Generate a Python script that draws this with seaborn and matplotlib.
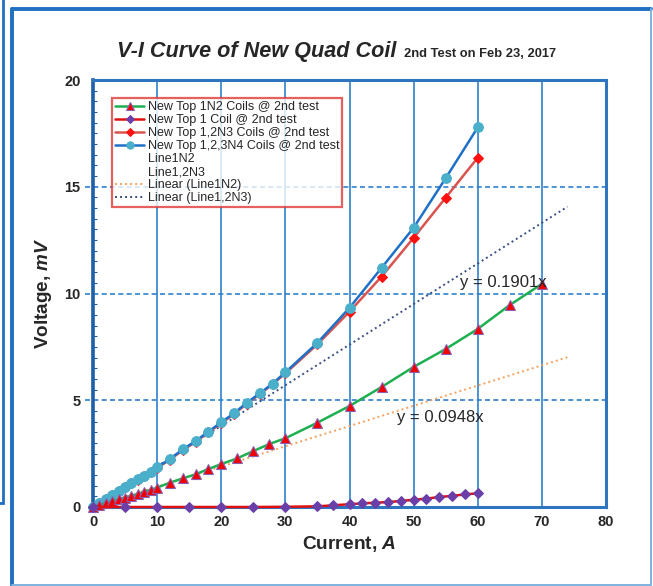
import matplotlib
matplotlib.use("Agg")
import matplotlib.pyplot as plt
from matplotlib.lines import Line2D
from matplotlib.patches import Rectangle
import numpy as np
import pandas as pd
import seaborn as sns

# Measured V-I data (current in A, voltage in mV)
x_1n2 = [0, 1, 2, 3, 4, 5, 6, 7, 8, 9, 10, 12, 14, 16, 18, 20, 22.5, 25, 27.5, 30,
         35, 40, 45, 50, 55, 60, 65, 70]
v_1n2 = [0, 0.09, 0.18, 0.27, 0.36, 0.44, 0.53, 0.61, 0.72, 0.80, 0.91, 1.14, 1.34,
         1.53, 1.78, 2.01, 2.28, 2.62, 2.95, 3.22, 3.95, 4.73, 5.62, 6.56, 7.40,
         8.34, 9.46, 10.45]

x_1 = [0, 5, 10, 15, 20, 25, 30, 35, 37.5, 40, 42, 44, 46, 48, 50, 52, 54, 56, 58, 60]
v_1 = [0, 0, 0, 0, 0, 0, 0.01, 0.03, 0.08, 0.13, 0.17, 0.20, 0.23, 0.28, 0.34,
       0.39, 0.47, 0.52, 0.59, 0.64]

x_12n3 = [0, 1, 2, 3, 4, 5, 6, 7, 8, 9, 10, 12, 14, 16, 18, 20, 22, 24, 26, 28, 30,
          35, 40, 45, 50, 55, 60]
v_12n3 = [0, 0.19, 0.36, 0.55, 0.74, 0.93, 1.12, 1.28, 1.45, 1.63, 1.83, 2.22, 2.66,
          3.05, 3.49, 3.93, 4.35, 4.84, 5.28, 5.75, 6.26, 7.62, 9.15, 10.79, 12.61,
          14.49, 16.36]

x_123n4 = [0, 1, 2, 3, 4, 5, 6, 7, 8, 9, 10, 12, 14, 16, 18, 20, 22, 24, 26, 28, 30,
           35, 40, 45, 50, 55, 60]
v_123n4 = [0, 0.20, 0.37, 0.56, 0.76, 0.95, 1.14, 1.30, 1.47, 1.65, 1.86, 2.25, 2.70,
           3.09, 3.53, 3.97, 4.39, 4.89, 5.32, 5.78, 6.31, 7.69, 9.33, 11.20, 13.08,
           15.40, 17.78]

# Linear trend lines through the origin
slope_1n2 = 0.0948
slope_12n3 = 0.1901
trend_x = [0, 74]

x_ticks = [0, 10, 20, 30, 40, 50, 60, 70, 80]
y_ticks = [0, 5, 10, 15, 20]

sns.set_theme(style="white")
plt.rcParams["font.family"] = ["Liberation Sans", "DejaVu Sans"]
plt.rcParams["mathtext.fontset"] = "custom"
plt.rcParams["mathtext.rm"] = "Liberation Sans:bold"
plt.rcParams["mathtext.it"] = "Liberation Sans:bold:italic"
plt.rcParams["mathtext.bf"] = "Liberation Sans:bold"

fig = plt.figure(figsize=(6.53, 5.86), dpi=100)
ax = fig.add_axes([93 / 653, 1 - 507 / 586, (606 - 93) / 653, (507 - 80) / 586])

grid_c = "#2F80CC"
for xv in x_ticks[1:-1]:
    ax.axvline(xv, color=grid_c, lw=1.2, zorder=0.5)
for yv in y_ticks[1:-1]:
    ax.axhline(yv, xmin=-0.016, xmax=1, color=grid_c, lw=1.2, ls=(0, (3, 2)),
               zorder=0.5, clip_on=False)

# trend lines
df_t1 = pd.DataFrame({"x": trend_x, "y": [slope_1n2 * v for v in trend_x]})
df_t2 = pd.DataFrame({"x": trend_x, "y": [slope_12n3 * v for v in trend_x]})
sns.lineplot(data=df_t1, x="x", y="y", ax=ax, color="#F4A15D", lw=1.4,
             linestyle=(0, (1, 1.6)), label="Linear (Line1N2)", zorder=2)
sns.lineplot(data=df_t2, x="x", y="y", ax=ax, color="#3B4F80", lw=1.4,
             linestyle=(0, (1, 1.6)), label="Linear (Line1,2N3)", zorder=2)

def series(xs, ys, **kw):
    df = pd.DataFrame({"x": xs, "y": ys})
    sns.lineplot(data=df, x="x", y="y", ax=ax, estimator=None, sort=False,
                 clip_on=False, **kw)

series(x_1n2, v_1n2, color="#1DB050", lw=1.8, marker="^", markersize=7,
       markerfacecolor="#F00000", markeredgecolor="#8A60B0", markeredgewidth=0.8,
       label="New Top 1N2 Coils @ 2nd test", zorder=4)
series(x_1, v_1, color="#E01010", lw=1.8, marker="D", markersize=5,
       markerfacecolor="#6A3FA8", markeredgecolor="#6A3FA8",
       label="New Top 1 Coil @ 2nd test", zorder=4)
series(x_12n3, v_12n3, color="#D9534F", lw=1.8, marker="D", markersize=5,
       markerfacecolor="#FF1010", markeredgecolor="#FF1010",
       label="New Top 1,2N3 Coils @ 2nd test", zorder=3)
series(x_123n4, v_123n4, color="#1F70C8", lw=1.8, marker="o", markersize=7,
       markerfacecolor="#4AAFCB", markeredgecolor="#4AAFCB",
       label="New Top 1,2,3N4 Coils @ 2nd test", zorder=3.5)

ax.set_xlim(0, 80)
ax.set_ylim(0, 20)
ax.set_xticks(x_ticks)
ax.set_yticks(y_ticks)
ax.set_yticks(np.arange(0, 20.01, 0.5), minor=True)
ax.tick_params(axis="y", which="minor", direction="in", length=3, width=0.8,
               color="#1F5FA8", left=True)
ax.tick_params(axis="y", which="major", length=0, pad=9)
ax.tick_params(axis="x", which="major", length=0, pad=6)
for lab in ax.get_xticklabels() + ax.get_yticklabels():
    lab.set_fontweight("bold")
    lab.set_fontsize(10.5)

for side, sp in ax.spines.items():
    sp.set_color("#2E75C0")
    sp.set_linewidth(2.2)
ax.spines["left"].set_color("#1F5FA8")
ax.spines["left"].set_linewidth(2.6)

ax.set_xlabel("Current, $A$", fontsize=13.8, fontweight="bold", labelpad=3)
ax.set_ylabel("Voltage, $mV$", fontsize=13.6, fontweight="bold", labelpad=7)

ax.text(57.3, 10.5, "y = 0.1901x", fontsize=12, va="center", ha="left", zorder=5)
ax.text(47.4, 4.2, "y = 0.0948x", fontsize=12, va="center", ha="left", zorder=5)

# legend with blank entries for the hidden helper series
h, l = ax.get_legend_handles_labels()
lab_map = dict(zip(l, h))
blank = lambda: Line2D([], [], linestyle="none")
order = ["New Top 1N2 Coils @ 2nd test", "New Top 1 Coil @ 2nd test",
         "New Top 1,2N3 Coils @ 2nd test", "New Top 1,2,3N4 Coils @ 2nd test"]
handles = [lab_map[k] for k in order] + [blank(), blank(),
           lab_map["Linear (Line1N2)"], lab_map["Linear (Line1,2N3)"]]
labels = order + ["Line1N2", "Line1,2N3", "Linear (Line1N2)", "Linear (Line1,2N3)"]
leg = ax.legend(handles, labels, loc="upper left",
                bbox_to_anchor=(19 / 513, (507 - 98) / 427), fontsize=9.0,
                frameon=True, fancybox=False, borderpad=0.25, labelspacing=0.08,
                handlelength=2.3, handletextpad=0.3, borderaxespad=0,
                markerscale=0.75)
leg.get_frame().set_edgecolor("#E03838")
leg.get_frame().set_linewidth(1.6)
leg.set_zorder(10)

# title
fig.text(117 / 653, 1 - 57 / 586, "V-I Curve of New Quad Coil", fontsize=15.6,
         fontweight="bold", fontstyle="italic", ha="left", va="baseline")
fig.text(404 / 653, 1 - 57 / 586, "2nd Test on Feb 23, 2017", fontsize=9.3,
         fontweight="bold", ha="left", va="baseline")

# chart frame: heavy left/top edges, light right/bottom edges
L, R, T, B = 12.5 / 653, 651 / 653, 1 - 9 / 586, 1 - 584.5 / 586
fig.add_artist(Line2D([L, L], [B, T], transform=fig.transFigure,
                      color="#1F70C0", lw=2.8))
fig.add_artist(Line2D([L, R], [T, T], transform=fig.transFigure,
                      color="#1F70C0", lw=2.8))
fig.add_artist(Line2D([R, R], [B, T], transform=fig.transFigure,
                      color="#7FB2E0", lw=1.4))
fig.add_artist(Line2D([L, R], [B, B], transform=fig.transFigure,
                      color="#7FB2E0", lw=1.4))
fig.patches.append(Rectangle((-10 / 653, 1 - 503 / 586), 13 / 653, 520 / 586,
                             transform=fig.transFigure, fill=False,
                             edgecolor="#1F70C0", lw=2))

fig.savefig("out.png", dpi=100)
